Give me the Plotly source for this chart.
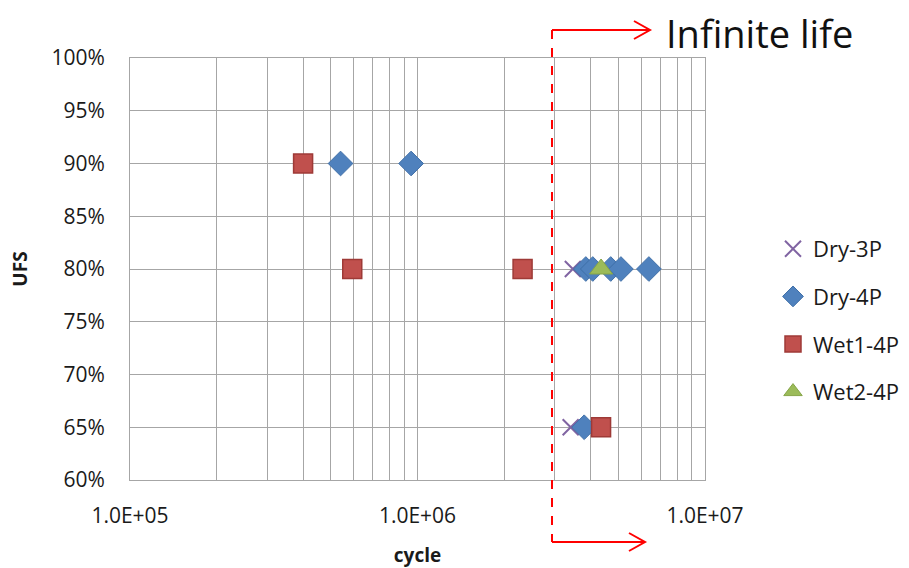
import plotly.graph_objects as go

# Data
dry3p_x = [3.47e6, 3.41e6]
dry3p_y = [0.80, 0.65]
dry4p_x = [5.4e5, 9.5e5, 3.85e6, 4.07e6, 4.7e6, 5.1e6, 6.38e6, 3.8e6]
dry4p_y = [0.90, 0.90, 0.80, 0.80, 0.80, 0.80, 0.80, 0.65]
wet1_x = [4.0e5, 5.93e5, 2.32e6, 4.35e6]
wet1_y = [0.90, 0.80, 0.80, 0.65]
wet2_x = [4.35e6]
wet2_y = [0.80]
x_tickvals = [1e5, 1e6, 1e7]
x_ticktext = ["1.0E+05", "1.0E+06", "1.0E+07"]
minor_vals = [m * 10**e for e in (5, 6) for m in range(2, 10)]

FONT = "Open Sans"
TXT = "#1a1a1a"

fig = go.Figure()
fig.add_trace(go.Scatter(x=dry3p_x, y=dry3p_y, mode="markers", name="Dry-3P", legendgroup="g1",
                         marker=dict(symbol="x-thin", size=16, line=dict(color="#8064A2", width=2), color="#8064A2")))
fig.add_trace(go.Scatter(x=dry4p_x, y=dry4p_y, mode="markers", name="Dry-4P", legendgroup="g2",
                         marker=dict(symbol="diamond", size=19, color="#4F81BD", line=dict(color="#3F6FA8", width=1))))
fig.add_trace(go.Scatter(x=wet1_x, y=wet1_y, mode="markers", name="Wet1-4P", legendgroup="g3",
                         marker=dict(symbol="square", size=19, color="#C0504D", line=dict(color="#9E3A37", width=1.5))))
fig.add_trace(go.Scatter(x=wet2_x, y=wet2_y, mode="markers", name="Wet2-4P", legendgroup="g4",
                         marker=dict(symbol="triangle-up", size=20, color="#9BBB59", line=dict(color="#86A548", width=1))))

red = "#FF0000"
def px(x):
    return (x - 130) / 575
def py(y):
    return (480 - y) / 422
xl = px(552)

shapes = [
    dict(type="line", xref="paper", yref="paper", x0=xl, x1=xl, y0=py(30), y1=py(542),
         line=dict(color=red, width=2, dash="dash")),
    dict(type="line", xref="paper", yref="paper", x0=xl, x1=px(650), y0=py(30), y1=py(30),
         line=dict(color=red, width=2)),
    dict(type="path", xref="paper", yref="paper",
         path=f"M {px(634)} {py(21)} L {px(650)} {py(30)} L {px(634)} {py(39)}",
         line=dict(color=red, width=2)),
    dict(type="line", xref="paper", yref="paper", x0=xl, x1=px(645), y0=py(542), y1=py(542),
         line=dict(color=red, width=2)),
    dict(type="path", xref="paper", yref="paper",
         path=f"M {px(629)} {py(533)} L {px(645)} {py(542)} L {px(629)} {py(551)}",
         line=dict(color=red, width=2)),
]

fig.update_layout(
    width=909, height=568,
    margin=dict(l=130, r=204, t=58, b=88, autoexpand=False),
    paper_bgcolor="white", plot_bgcolor="white",
    font=dict(family=FONT, size=20, color=TXT),
    shapes=shapes,
    annotations=[dict(text="Infinite life", xref="paper", yref="paper", x=px(664), y=py(33),
                      xanchor="left", yanchor="middle", showarrow=False,
                      font=dict(family=FONT, size=38, color="#111"))],
    legend=dict(x=px(773), y=py(228), xanchor="left", yanchor="top",
                font=dict(family=FONT, size=22, color=TXT), tracegroupgap=16,
                bgcolor="rgba(0,0,0,0)"),
    xaxis=dict(type="log", range=[5, 7], tickvals=x_tickvals, ticktext=x_ticktext,
               tickfont=dict(family=FONT, size=21, color=TXT), ticklabelstandoff=17,
               showgrid=True, gridcolor="#A6A6A6", gridwidth=1,
               minor=dict(tickvals=minor_vals, showgrid=True, gridcolor="#A6A6A6", gridwidth=1),
               showline=True, linecolor="#A6A6A6", mirror=True, ticks="", ticklen=0,
               title=dict(text="<b>cycle</b>", font=dict(family=FONT, size=19, color=TXT), standoff=21),
               zeroline=False),
    yaxis=dict(range=[0.6, 1.0], dtick=0.05, tick0=0.6, tickformat=".0%",
               tickfont=dict(family=FONT, size=21, color=TXT), ticklabelstandoff=20,
               showgrid=True, gridcolor="#A6A6A6", gridwidth=1,
               showline=True, linecolor="#A6A6A6", mirror=True, ticks="",
               title=dict(text="<b>UFS</b>", font=dict(family=FONT, size=19, color=TXT), standoff=18),
               zeroline=False),
)

fig.write_html("out.html")
